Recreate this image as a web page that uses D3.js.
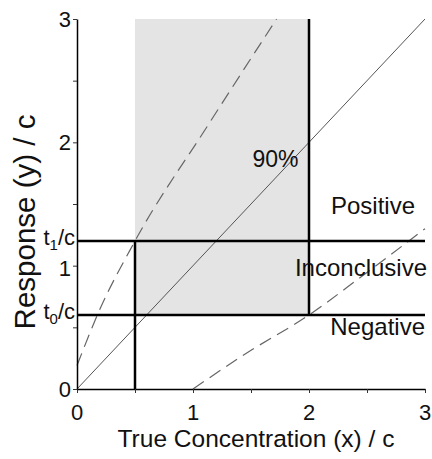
<!DOCTYPE html>
<html>
<head>
<meta charset="utf-8">
<script src="https://cdn.jsdelivr.net/npm/d3@7"></script>
<style>
    body { margin: 0; background: #fff; }
    svg text { font-family: "Liberation Sans", Arial, sans-serif; fill: #111; }
</style>
</head>
<body>
<div id="chart"></div>
<script>
// values (units of c)
var thresholds = [0.6, 1.2];            // t0/c, t1/c
var concRange = [0.5, 2];               // shaded band on x
var identityLine = [[0, 0], [3, 3]];
var upperBand = [[0, 0.19], [0.18, 0.61], [0.5, 1.2], [1.13, 2.14], [1.72, 3.0]];
var lowerBand = [[1, 0], [1.46, 0.29], [2, 0.6], [2.45, 0.91], [3, 1.3]];
var xTicks = [0, 1, 2, 3];
var yTicks = [0, 1, 2, 3];
var regionLabels = ['Positive', 'Inconclusive', 'Negative'];
var regionY = [1.42, 0.92, 0.44];

window.respChart = {};

respChart.Plot = function(node) {
    this.width = 432;
    this.height = 459;
    this.x = d3.scaleLinear().domain([0, 3]).range([77, 425]);
    this.y = d3.scaleLinear().domain([0, 3]).range([389, 19]);
    this.svg = d3.select(node).append('svg')
        .attr('width', this.width)
        .attr('height', this.height);
};

respChart.Plot.prototype = {
    constructor: respChart.Plot,

    drawShade: function() {
        var x = this.x, y = this.y;
        this.svg.append('rect')
            .attr('x', x(concRange[0]))
            .attr('y', y(3))
            .attr('width', x(concRange[1]) - x(concRange[0]))
            .attr('height', y(thresholds[0]) - y(3))
            .attr('fill', '#e4e4e4');
        return this;
    },

    drawCurves: function() {
        var x = this.x, y = this.y;
        var line = d3.line()
            .x(function(d) { return x(d[0]); })
            .y(function(d) { return y(d[1]); });
        var smooth = d3.line()
            .x(function(d) { return x(d[0]); })
            .y(function(d) { return y(d[1]); })
            .curve(d3.curveMonotoneX);

        this.svg.append('path')
            .attr('d', line(identityLine))
            .attr('fill', 'none')
            .attr('stroke', '#555')
            .attr('stroke-width', 1);

        [upperBand, lowerBand].forEach(function(band) {
            this.svg.append('path')
                .attr('d', smooth(band))
                .attr('fill', 'none')
                .attr('stroke', '#666')
                .attr('stroke-width', 1.2)
                .attr('stroke-dasharray', '13,7');
        }, this);
        return this;
    },

    drawThresholds: function() {
        var x = this.x, y = this.y, svg = this.svg;
        thresholds.forEach(function(t) {
            svg.append('line')
                .attr('x1', x(0)).attr('x2', x(3))
                .attr('y1', y(t)).attr('y2', y(t))
                .attr('stroke', '#000').attr('stroke-width', 2.5);
        });
        // x = 0.5 from t1 down to axis, x = 2 from top down to t0
        svg.append('line')
            .attr('x1', x(concRange[0])).attr('x2', x(concRange[0]))
            .attr('y1', y(thresholds[1])).attr('y2', y(0))
            .attr('stroke', '#000').attr('stroke-width', 2.5);
        svg.append('line')
            .attr('x1', x(concRange[1])).attr('x2', x(concRange[1]))
            .attr('y1', y(3)).attr('y2', y(thresholds[0]))
            .attr('stroke', '#000').attr('stroke-width', 2.5);
        return this;
    },

    drawAxes: function() {
        var x = this.x, y = this.y, svg = this.svg;
        var minor = d3.range(0, 3.01, 0.5);

        var gx = svg.append('g').attr('transform', 'translate(0,' + y(0) + ')');
        gx.call(d3.axisBottom(x).tickValues(minor).tickFormat('').tickSize(4).tickSizeOuter(0));
        var gy = svg.append('g').attr('transform', 'translate(' + x(0) + ',0)');
        gy.call(d3.axisLeft(y).tickValues(minor).tickFormat('').tickSize(4).tickSizeOuter(0));
        svg.selectAll('.domain').attr('stroke', '#000').attr('stroke-width', 1.5);
        svg.selectAll('.tick line').attr('stroke', '#333');

        svg.selectAll('.xtick').data(xTicks).enter().append('text')
            .attr('x', function(d) { return x(d); })
            .attr('y', y(0) + 31)
            .attr('text-anchor', 'middle')
            .style('font-size', '22px')
            .text(function(d) { return d; });

        svg.selectAll('.ytick').data(yTicks.filter(function(d) { return d !== 1; })).enter().append('text')
            .attr('x', x(0) - 6)
            .attr('y', function(d) { return y(d) + 8; })
            .attr('text-anchor', 'end')
            .style('font-size', '22px')
            .text(function(d) { return d; });
        svg.append('text')
            .attr('x', x(0) - 6)
            .attr('y', y(1) + 10)
            .attr('text-anchor', 'end')
            .style('font-size', '22px')
            .text('1');

        // threshold labels t1/c, t0/c
        [[1, thresholds[1]], [0, thresholds[0]]].forEach(function(d) {
            var t = svg.append('text')
                .attr('x', x(0) - 2)
                .attr('y', y(d[1]) + 4)
                .attr('text-anchor', 'end')
                .style('font-size', '22px');
            t.append('tspan').text('t');
            t.append('tspan').attr('dy', 5).style('font-size', '15px').text(d[0]);
            t.append('tspan').attr('dy', -5).text('/c');
        });

        svg.append('text')
            .attr('x', 256)
            .attr('y', 447)
            .attr('text-anchor', 'middle')
            .style('font-size', '24.5px')
            .text('True Concentration (x) / c');
        svg.append('text')
            .attr('transform', 'translate(35,222) rotate(-90)')
            .attr('text-anchor', 'middle')
            .style('font-size', '29.5px')
            .text('Response (y) / c');
        return this;
    },

    drawLabels: function() {
        var x = this.x, y = this.y, svg = this.svg;
        var rightEdge = [415, 427, 425];
        svg.append('text')
            .attr('x', x(1.91))
            .attr('y', y(1.8))
            .attr('text-anchor', 'end')
            .style('font-size', '23px')
            .text('90%');
        svg.selectAll('.region').data(regionLabels).enter().append('text')
            .attr('x', function(d, i) { return rightEdge[i]; })
            .attr('y', function(d, i) { return y(regionY[i]); })
            .attr('text-anchor', 'end')
            .style('font-size', '24px')
            .text(function(d) { return d; });
        return this;
    }
};

new respChart.Plot('#chart')
    .drawShade()
    .drawCurves()
    .drawThresholds()
    .drawAxes()
    .drawLabels();
</script>
</body>
</html>
